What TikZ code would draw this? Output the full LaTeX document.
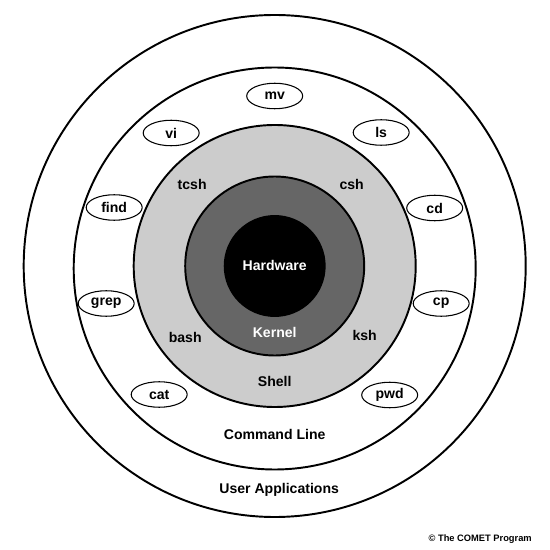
\documentclass[tikz,border=0pt]{standalone}
\usepackage{fontspec}
\setmainfont{Liberation Sans}
\usetikzlibrary{shapes.geometric}

\definecolor{shellgray}{HTML}{CCCCCC}
\definecolor{kernelgray}{HTML}{666666}

\begin{document}
\begin{tikzpicture}[
    ring/.style={line width=1.1pt},
    cmd/.style={ellipse, draw, line width=0.6pt, fill=white,
      minimum width=1.12cm, minimum height=0.51cm, inner sep=0pt,
      font=\fontsize{8}{9.6}\selectfont\bfseries},
    lbl/.style={font=\fontsize{8}{9.6}\selectfont\bfseries},
    wlbl/.style={lbl, text=white}
  ]
  \useasboundingbox (-5.494, -5.68) rectangle (5.506, 5.32);

  % layers, outside in
  \draw[ring] (0, 0) circle (5.02);
  \draw[ring] (0, -0.05) circle (4.02);
  \draw[ring, fill=shellgray] (0, 0) circle (2.82);
  \draw[ring, fill=kernelgray] (0, 0) circle (1.79);
  \draw[ring, fill=black] (0, 0) circle (1.0);

  \node[wlbl] (hardware) at (0, 0.02) {Hardware};
  \node[wlbl] (kernel) at (0, -1.32) {Kernel};
  \node[lbl] (shell) at (0, -2.30) {Shell};
  \node[lbl] (cmdline) at (0, -3.36) {Command Line};
  \node[lbl] (userapps) at (0.09, -4.48) {User Applications};

  % shells
  \node[lbl] (tcsh) at (-1.65, 1.63) {tcsh};
  \node[lbl] (csh) at (1.54, 1.63) {csh};
  \node[lbl] (bash) at (-1.79, -1.42) {bash};
  \node[lbl] (ksh) at (1.80, -1.38) {ksh};

  % commands
  \node[cmd] (mv) at (0, 3.40) {mv};
  \node[cmd] (vi) at (-2.07, 2.66) {vi};
  \node[cmd] (ls) at (2.13, 2.67) {ls};
  \node[cmd] (find) at (-3.21, 1.17) {find};
  \node[cmd] (cd) at (3.20, 1.16) {cd};
  \node[cmd] (grep) at (-3.37, -0.75) {grep};
  \node[cmd] (cp) at (3.33, -0.75) {cp};
  \node[cmd] (cat) at (-2.31, -2.57) {cat};
  \node[cmd] (pwd) at (2.30, -2.58) {pwd};

  \node[font=\fontsize{5.3}{6.4}\selectfont\bfseries] (credit)
    at (4.11, -5.46) {© The COMET Program};
\end{tikzpicture}
\end{document}
